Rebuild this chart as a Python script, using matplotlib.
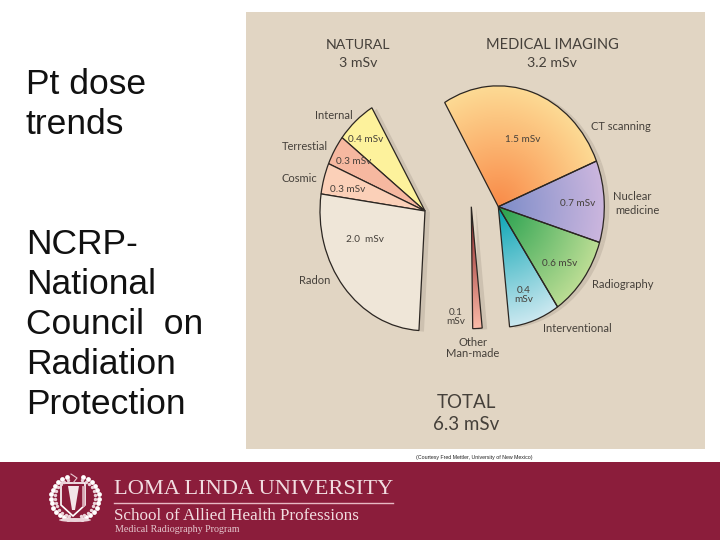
import numpy as np
import matplotlib
matplotlib.use("Agg")
import matplotlib.pyplot as plt
from matplotlib.colors import LinearSegmentedColormap
from matplotlib.patches import Rectangle, Polygon, Ellipse

# wedge sizes, in degrees (the drawing is not quite to scale)
natural_labels = ["Internal", "Terrestial", "Cosmic", "Radon"]
natural_doses = ["0.4 mSv", "0.3 mSv", "0.3 mSv", "2.0  mSv"]
natural_sizes = [21.8, 14.5, 15.1, 94.9]
natural_colors = ["#FDF29C", "#F6B8A0", "#FBD0B8", "#EFE6D8"]

medical_labels = ["CT scanning", "Nuclear", "medicine", "Radiography", "Interventional"]
medical_doses = ["1.5 mSv", "0.7 mSv", "0.6 mSv", "0.4\nmSv"]
medical_sizes = [98.2, 39.4, 38.8, 27.9]
medical_ramps = [("#F98A48", "#FDDA94"), ("#7C8CC8", "#CBB6DE"),
                 ("#25A04E", "#BBDD94"), ("#05A3B2", "#CBE8F0")]

other_size = [5.1]
other_ramp = ("#8E1F24", "#FBBBA8")

BURGUNDY = "#8B1D3B"
TAN = "#E1D5C3"
INK = "#45403A"
SQUEEZE = 1.14  # the pies are stretched upward in the slide


def px(x, y):
    return x / 720, 1 - y / 540


def pie_center(x, y):
    return (x, (540 - y) / SQUEEZE)


fig = plt.figure(figsize=(7.2, 5.4), dpi=100, facecolor="white")

# background blocks
bg = fig.add_axes([0, 0, 1, 1], zorder=0)
bg.set_xlim(0, 720)
bg.set_ylim(540, 0)
bg.axis("off")
bg.add_patch(Rectangle((246, 12), 459, 437, color=TAN, lw=0))
bg.add_patch(Rectangle((0, 462), 720, 78, color=BURGUNDY, lw=0))
bg.plot([114, 393], [503, 503], color="#E8B9C4", lw=1)

# crest, rough
bg.add_patch(Polygon([(61, 483), (85, 483), (85, 505), (73, 516), (61, 505)],
                     fill=False, ec="white", lw=1.2))
bg.add_patch(Polygon([(68, 486), (79, 486), (75, 510), (72, 510)], color="#F3E6E8", lw=0))
bg.plot([83, 83], [487, 505], color="#D9A9B5", lw=2)
for side in (-1, 1):
    ang = np.radians(np.arange(-70, 80, 12))
    bg.scatter(75 + side * 24 * np.cos(ang), 498 + 22 * np.sin(ang),
               s=12, color="white", lw=0)
    bg.scatter(75 + side * 20 * np.cos(ang), 498 + 19 * np.sin(ang),
               s=6, color="#EBD3D9", lw=0)
bg.add_patch(Ellipse((75, 520), 32, 4, color="#EBD3D9", lw=0))
bg.plot([73, 77, 71], [483, 478, 474], color="#E8C8D0", lw=0.8)

# pies
pa = fig.add_axes([0, 0, 1, 1], zorder=1)
pa.patch.set_alpha(0)

nat_c = pie_center(425, 211)
med_c = pie_center(498.3, 206.7)
oth_c = pie_center(471.3, 206.7)

# soft shadows to the right of each group
for c, sizes, r, start, ccw in [(nat_c, natural_sizes, 105, 120.4, True),
                                (med_c, medical_sizes, 106, 120.4, False),
                                (oth_c, other_size, 107, 270.75, True)]:
    frac = [s / 360 for s in sizes]
    pa.pie(frac, center=(c[0] + 5, c[1] - 1), radius=r, startangle=start,
           counterclock=ccw, normalize=False,
           colors=["#CDC1B0"] * len(frac), wedgeprops=dict(lw=0))

edge = dict(edgecolor="#2B2622", linewidth=0.9)
pa.pie([s / 360 for s in natural_sizes], center=nat_c, radius=105, startangle=120.4,
       normalize=False, colors=natural_colors, wedgeprops=edge)


def gradient_pie(sizes, ramps, center, radius, start, ccw):
    wedges, _ = pa.pie([s / 360 for s in sizes], center=center, radius=radius,
                       startangle=start, counterclock=ccw, normalize=False,
                       colors=["none"] * len(sizes), wedgeprops=edge)
    xx, yy = np.meshgrid(np.linspace(-1, 1, 300), np.linspace(-1, 1, 300))
    dist = np.hypot(xx, yy)
    ext = [center[0] - radius, center[0] + radius, center[1] - radius, center[1] + radius]
    for wedge, ramp in zip(wedges, ramps):
        cmap = LinearSegmentedColormap.from_list("ramp", ramp)
        im = pa.imshow(dist, cmap=cmap, vmin=0, vmax=1, extent=ext, aspect="auto", zorder=2)
        im.set_clip_path(wedge)
        wedge.set_zorder(3)


gradient_pie(medical_sizes, medical_ramps, med_c, 106, 120.4, False)
gradient_pie(other_size, [other_ramp], oth_c, 107, 270.75, True)

pa.set_aspect("auto")
pa.set_xlim(0, 720)
pa.set_ylim(0, 540 / SQUEEZE)
pa.axis("off")

# slide text on the left
slide_lines = [("Pt dose", 85), ("trends", 125), ("NCRP-", 245), ("National", 285),
               ("Council  on", 325), ("Radiation", 365), ("Protection", 405)]
for line, y in slide_lines:
    x0, y0 = px(26, y)
    fig.text(x0, y0, line, family="Liberation Sans", fontsize=25.5, color="#111111",
             ha="left", va="center")


def label(x, y, s, size=7.6, ha="center", color=INK):
    x0, y0 = px(x, y + 1)
    fig.text(x0, y0, s, family="Lato", fontsize=size, color=color, ha=ha, va="center",
             linespacing=1.05)


label(358, 44, "NATURAL", 10.2)
label(358, 62, "3 mSv", 10.2)
label(552, 44, "MEDICAL IMAGING", 10.5)
label(552, 62, "3.2 mSv", 10.2)
label(466, 401, "TOTAL", 13.5)
label(466, 423, "6.3 mSv", 13.5)

for s, pos in zip(natural_labels, [(334, 114), (305, 146), (299, 177), (315, 280)]):
    label(pos[0], pos[1], s, 8)
for s, pos in zip(natural_doses, [(366, 138), (354, 160), (348, 188), (365, 239)]):
    label(pos[0], pos[1], s, 7.2)
for s, pos in zip(medical_labels, [(621, 125), (632, 195), (637, 209), (623, 283), (577, 328)]):
    label(pos[0], pos[1], s, 8)
for s, pos in zip(medical_doses, [(523, 138), (578, 202), (560, 262), (524, 294)]):
    label(pos[0], pos[1], s, 7.2)
label(456, 316, "0.1\nmSv", 7.2)
label(473, 347, "Other\nMan-made", 8)

# footer
x0, y0 = px(114, 489)
fig.text(x0, y0, "LOMA LINDA UNIVERSITY", family="Liberation Serif", fontsize=16.2,
         color="#F2DDE1", va="center")
x0, y0 = px(114, 516)
fig.text(x0, y0, "School of Allied Health Professions", family="Liberation Serif",
         fontsize=12.3, color="#F2DDE1", va="center")
x0, y0 = px(115, 530)
fig.text(x0, y0, "Medical Radiography Program", family="Liberation Serif", fontsize=7.2,
         color="#E6C9D0", va="center")
x0, y0 = px(416, 458)
fig.text(x0, y0, "(Courtesy Fred Mettler, University of New Mexico)", family="Liberation Sans",
         fontsize=3.8, color="#222222", va="center")

fig.savefig("out.png", dpi=100, facecolor="white")
